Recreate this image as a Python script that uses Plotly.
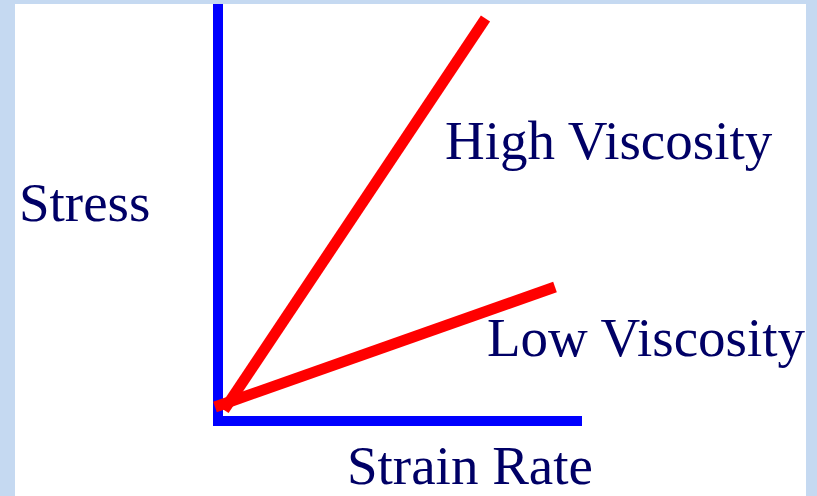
import plotly.graph_objects as go

# ---- data (arbitrary units, 1 unit = 100 px) ----
high_strain_rate = [0.06, 2.675]
high_stress = [-0.02, 3.895]
low_strain_rate = [-0.03, 3.37]
low_stress = [0.01, 1.21]

series_names = ["High Viscosity", "Low Viscosity"]
axis_labels = ["Stress", "Strain Rate"]

# ---- style ----
W, H = 817, 496
ML, MR, MT, MB = 15, 11, 4, 0
PW, PH = W - ML - MR, H - MT - MB
BG_OUT = "#c5d9f1"
TXT = "#000066"
FONT = "Liberation Serif, Times New Roman, serif"
FS = 55


def px_x(x):
    return (x - ML) / PW


def px_y(y):
    return (H - MB - y) / PH


fig = go.Figure()

# empty trace so the axis-frame subplot (x, y) is created and drawn
fig.add_trace(go.Scatter(x=[], y=[], mode="lines", xaxis="x", yaxis="y",
                         showlegend=False, hoverinfo="skip"))

fig.add_trace(go.Scatter(x=high_strain_rate, y=high_stress, mode="lines",
                         line=dict(color="#ff0000", width=11),
                         name=series_names[0], xaxis="x2", yaxis="y2",
                         hoverinfo="skip"))
fig.add_trace(go.Scatter(x=low_strain_rate, y=low_stress, mode="lines",
                         line=dict(color="#ff0000", width=11),
                         name=series_names[1], xaxis="x2", yaxis="y2",
                         hoverinfo="skip"))

axis_common = dict(showgrid=False, zeroline=False, showticklabels=False,
                   ticks="", showline=True, linecolor="#0000ff",
                   linewidth=10, fixedrange=True)

hidden = dict(visible=False, showgrid=False, zeroline=False, fixedrange=True)

fig.update_layout(
    width=W, height=H,
    margin=dict(l=ML, r=MR, t=MT, b=MB, pad=0),
    paper_bgcolor=BG_OUT,
    plot_bgcolor="rgba(0,0,0,0)",
    showlegend=False,
    xaxis=dict(domain=[px_x(223), px_x(582)], range=[0.05, 3.64],
               anchor="y", **axis_common),
    yaxis=dict(domain=[px_y(416), 1.0], range=[-0.08, 4.04],
               anchor="x", **axis_common),
    xaxis2=dict(domain=[0, 1], range=[-2.03, 5.88], anchor="y2", **hidden),
    yaxis2=dict(domain=[0, 1], range=[-0.88, 4.04], anchor="x2", **hidden),
)

# white drawing area
fig.add_shape(type="rect", xref="paper", yref="paper", x0=0, x1=1, y0=0, y1=1,
              fillcolor="#ffffff", line=dict(width=0), layer="below")

labels = [
    (axis_labels[0], 17, 221),
    (series_names[0], 443, 159),
    (series_names[1], 485, 356),
    (axis_labels[1], 345, 484),
]
for text, x, base in labels:
    fig.add_annotation(text=text, xref="paper", yref="paper",
                       x=px_x(x), y=px_y(base - 18.6),
                       xanchor="left", yanchor="middle", showarrow=False,
                       font=dict(family=FONT, size=FS, color=TXT))

fig.write_html("out.html",
               config={"displayModeBar": False},
               post_script="document.body.style.margin='0';"
                           "document.body.style.overflow='hidden';")
